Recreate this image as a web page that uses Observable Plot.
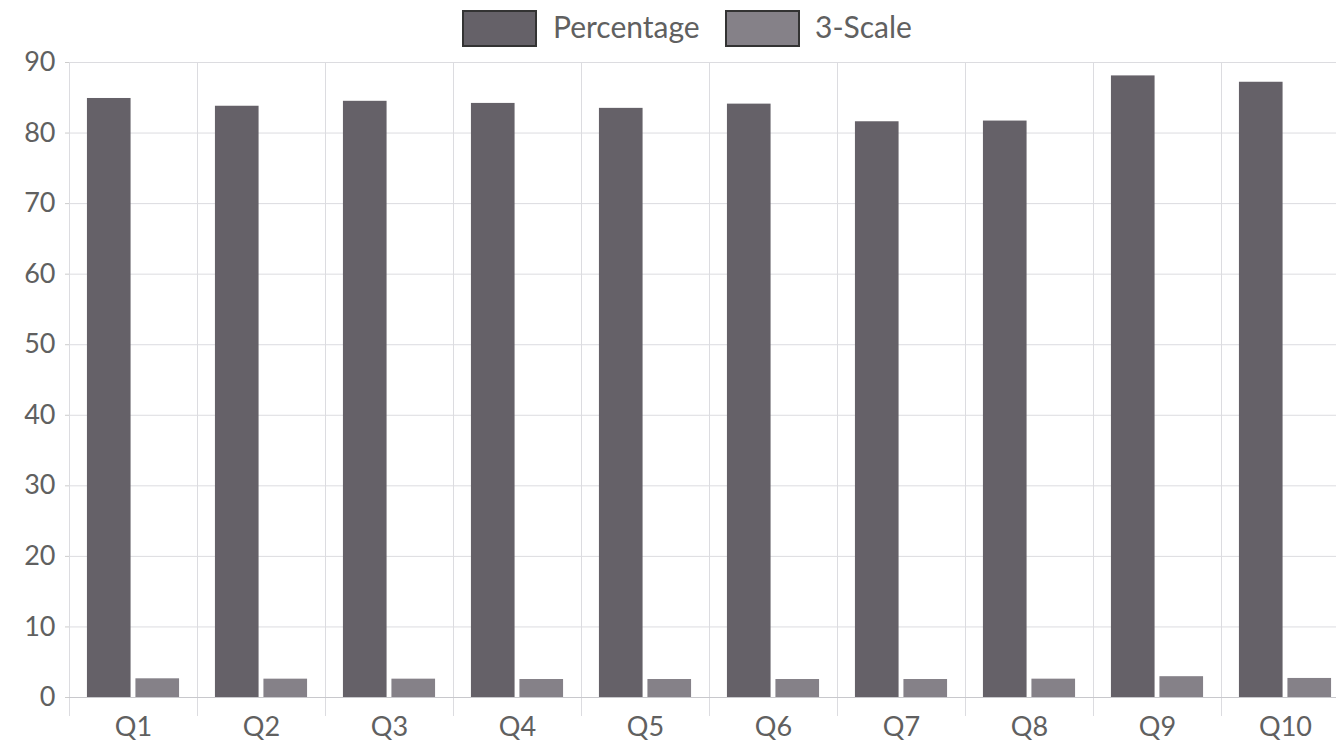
<!DOCTYPE html>
<html>
<head>
<meta charset="utf-8">
<script src="https://cdn.jsdelivr.net/npm/d3@7"></script>
<script src="https://cdn.jsdelivr.net/npm/@observablehq/plot@0.6"></script>
<style>
  html, body { margin: 0; padding: 0; background: #ffffff; overflow: hidden; }
  body { width: 1336px; height: 747px; font-family: Lato, "Open Sans", sans-serif; }
  #legend { height: 56px; position: relative; font-size: 30px; color: #606060; }
  .sw { position: absolute; top: 10px; width: 71px; height: 33px; border: 2px solid #333; }
  .lt { position: absolute; top: 8px; line-height: 36px; }
  svg { overflow: visible; }
</style>
</head>
<body>
<div id="legend"></div>
<div id="chart"></div>
<script>
const questions = ["Q1","Q2","Q3","Q4","Q5","Q6","Q7","Q8","Q9","Q10"];
const seriesNames = ["Percentage", "3-Scale"];
const percentage = [84.9, 83.8, 84.5, 84.2, 83.5, 84.1, 81.6, 81.7, 88.1, 87.2];
const threeScale = [2.65, 2.6, 2.6, 2.55, 2.55, 2.55, 2.55, 2.6, 2.95, 2.7];
const yTicks = [0, 10, 20, 30, 40, 50, 60, 70, 80, 90];
const colors = ["#656168", "#858188"];

const data = [];
questions.forEach((q, i) => {
  data.push({q, series: seriesNames[0], value: percentage[i]});
  data.push({q, series: seriesNames[1], value: threeScale[i]});
});

// legend (HTML, above the SVG)
const legend = document.getElementById("legend");
const legendLayout = [{sw: 462, tx: 553}, {sw: 725, tx: 815}];
seriesNames.forEach((s, i) => {
  const sw = document.createElement("div");
  sw.className = "sw";
  sw.style.left = legendLayout[i].sw + "px";
  sw.style.background = colors[i];
  const t = document.createElement("span");
  t.className = "lt";
  t.style.left = legendLayout[i].tx + "px";
  t.textContent = s;
  legend.appendChild(sw); legend.appendChild(t);
});

const chart = Plot.plot({
  width: 1336,
  height: 691,
  marginTop: 6,
  marginBottom: 50,
  marginLeft: 69,
  marginRight: 0,
  style: {fontFamily: "Lato, 'Open Sans', sans-serif", color: "#606060", background: "transparent", overflow: "visible"},
  fx: {domain: questions, range: [69, 1349], padding: 0, round: false, label: null},
  x: {domain: seriesNames, paddingInner: 0.1, paddingOuter: 0.37, round: false, axis: null},
  y: {domain: [0, 90], label: null},
  color: {domain: seriesNames, range: colors},
  marks: [
    Plot.gridY(yTicks, {stroke: "#dcdce0", strokeOpacity: 1}),
    Plot.frame({stroke: "#dcdce0", anchor: "left", insetBottom: -18}),
    Plot.axisY(yTicks, {tickSize: 4, tickPadding: 10, stroke: "#ccc", fontSize: 27, fill: "#606060"}),
    Plot.axisFx({anchor: "bottom", tickSize: 0, tickPadding: 19, fontSize: 27, fill: "#606060"}),
    Plot.barY(data, {fx: "q", x: "series", y: "value", fill: "series"}),
    Plot.ruleY([0], {stroke: "#c8c8cc"})
  ]
});
document.getElementById("chart").appendChild(chart);
</script>
</body>
</html>
